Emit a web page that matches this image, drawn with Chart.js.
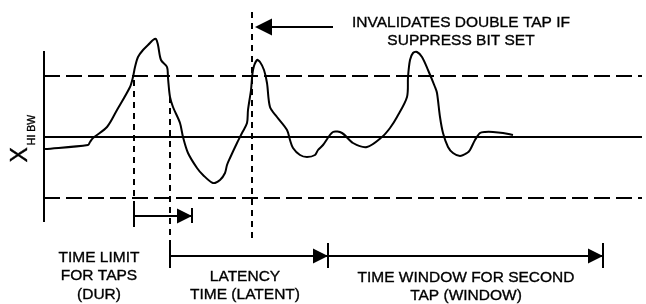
<!DOCTYPE html>
<html><head><meta charset="utf-8">
<script src="https://cdn.jsdelivr.net/npm/chart.js@4/dist/chart.umd.min.js"></script>
<style>html,body{margin:0;padding:0;background:#fff;overflow:hidden}</style>
</head><body>
<canvas id="c" width="646" height="304" style="width:646px;height:304px"></canvas>
<script>
// ---- data (time in arbitrary units, amplitude relative to 0 g baseline) ----
const signalTime = [45, 88, 90, 93, 107, 117, 130, 133, 135, 138, 143, 150, 153, 156, 158, 161, 167, 168, 170, 173, 180, 183, 188, 197, 203, 213, 220, 225, 227, 230, 237, 242, 247, 248, 251, 253, 257, 260, 264, 267, 270, 277, 287, 290, 293, 300, 307, 315, 318, 323, 333, 342, 353, 367, 382, 390, 397, 407, 408, 410, 413, 417, 422, 428, 435, 437, 440, 443, 448, 453, 460, 467, 470, 475, 480, 485, 493, 503, 513];
const signalAmp  = [-12, -8, -5, -1, 10, 27, 50, 60, 70, 80, 87, 94, 97, 98, 92, 77, 70, 59, 40, 30, 14, 0, -16, -31, -38, -46, -43, -36, -28, -21, -6, 4, 14, 27, 47, 67, 77, 75, 67, 54, 30, 20, 7, -3, -11, -18, -20, -18, -13, -8, 5, 4, -6, -10, 0, 9, 20, 40, 60, 77, 84, 85, 80, 67, 50, 44, 20, 4, -10, -16, -19, -16, -13, -3, 4, 5, 5, 4, 2];
const THRESHOLD = 61;
const axisTime = [44, 642];
const axisAmp = [86, -85];
// event times
const tapStart = 134, tapEnd = 170, durEnd = 192, suppressAt = 252, latencyEnd = 328, windowEnd = 603;
// labels
const yLabelMain = 'X', yLabelSub = 'HI BW';
const suppressLabel = ['INVALIDATES DOUBLE TAP IF', 'SUPPRESS BIT SET'];
const durLabel = ['TIME LIMIT', 'FOR TAPS', '(DUR)'];
const latencyLabel = ['LATENCY', 'TIME (LATENT)'];
const windowLabel = ['TIME WINDOW FOR SECOND', 'TAP (WINDOW)'];

const signal = signalTime.map((t, i) => ({x: t, y: signalAmp[i]}));
const seg = (x0, y0, x1, y1) => [{x: x0, y: y0}, {x: x1, y: y1}];
const base = {borderColor: '#000', borderWidth: 2, pointRadius: 0, fill: false, tension: 0};

const datasets = [
  Object.assign({}, base, {data: signal, tension: 0.3, borderWidth: 2}),
  Object.assign({}, base, {data: seg(axisTime[0], 0, axisTime[1], 0)}),
  Object.assign({}, base, {data: seg(axisTime[0], THRESHOLD, axisTime[1], THRESHOLD), borderDash: [16, 6]}),
  Object.assign({}, base, {data: seg(axisTime[0], -THRESHOLD, axisTime[1], -THRESHOLD), borderDash: [16, 6]}),
  Object.assign({}, base, {data: seg(axisTime[0], axisAmp[0], axisTime[0], axisAmp[1])}),
  Object.assign({}, base, {data: seg(tapStart, 57, tapStart, -68), borderDash: [6, 5]}),
  Object.assign({}, base, {data: seg(tapEnd, 40, tapEnd, -106), borderDash: [6, 5]}),
  Object.assign({}, base, {data: seg(suppressAt, 125, suppressAt, -103), borderDash: [6, 5]})
];

const annot = {
  id: 'annot',
  afterDatasetsDraw(chart) {
    const {ctx, scales: {x, y}} = chart;
    const X = v => x.getPixelForValue(v), Y = v => y.getPixelForValue(v);
    ctx.save();
    ctx.strokeStyle = '#000'; ctx.fillStyle = '#000'; ctx.lineWidth = 2;
    const line = (x0, y0, x1, y1) => { ctx.beginPath(); ctx.moveTo(x0, y0); ctx.lineTo(x1, y1); ctx.stroke(); };
    const head = (tip, yy, dir, len, half) => {
      ctx.beginPath(); ctx.moveTo(tip, yy); ctx.lineTo(tip - dir * len, yy - half);
      ctx.lineTo(tip - dir * len, yy + half); ctx.closePath(); ctx.fill();
    };
    // DUR arrow
    const yd = Y(-79);
    line(X(tapStart), yd, X(durEnd), yd);
    head(X(durEnd), yd, 1, 15, 7.5);
    line(X(tapStart), Y(-68), X(tapStart), Y(-90));
    line(X(durEnd), Y(-71), X(durEnd), Y(-86));
    // latency + window arrows
    const yl = Y(-119);
    line(X(tapEnd), yl, X(windowEnd), yl);
    head(X(latencyEnd), yl, 1, 15, 7.5);
    head(X(windowEnd), yl, 1, 15, 7.5);
    [tapEnd, latencyEnd, windowEnd].forEach(t => line(X(t), Y(-106), X(t), Y(-131)));
    // suppress arrow
    const ys = Y(110);
    line(X(suppressAt + 18), ys, X(333), ys);
    head(X(suppressAt + 3), ys, -1, 17, 8.5);
    // texts
    ctx.font = '15.5px "Liberation Sans", Arial, sans-serif';
    ctx.textAlign = 'center'; ctx.textBaseline = 'alphabetic';
    ctx.lineWidth = 0.35;
    const txt = (s, px, py) => { ctx.fillText(s, px, py); ctx.strokeText(s, px, py); };
    const block = (lines, cx, baseAmp) => lines.forEach((s, i) => txt(s, X(cx), Y(baseAmp) + i * 18.5));
    block(suppressLabel, 461, 110.5);
    block(durLabel, 99, -124.5);
    block(latencyLabel, 245, -143.5);
    block(windowLabel, 466, -144.5);
    // y label (rotated)
    ctx.save();
    ctx.translate(27, Y(-25.5));
    ctx.rotate(-Math.PI / 2);
    ctx.textAlign = 'left';
    ctx.font = '23px "Liberation Sans", Arial, sans-serif';
    txt(yLabelMain, 0, 0);
    const w = ctx.measureText(yLabelMain).width;
    ctx.font = '10.5px "Liberation Sans", Arial, sans-serif';
    txt(yLabelSub, w + 2, 8);
    ctx.restore();
    ctx.restore();
  }
};

new Chart(document.getElementById('c'), {
  type: 'line',
  data: {datasets},
  options: {
    responsive: false, animation: false, devicePixelRatio: 1,
    layout: {padding: 0},
    plugins: {legend: {display: false}, tooltip: {enabled: false}},
    scales: {
      x: {type: 'linear', display: false, min: 0, max: 646},
      y: {type: 'linear', display: false, min: -167, max: 137}
    }
  },
  plugins: [annot]
});
</script>
</body></html>
